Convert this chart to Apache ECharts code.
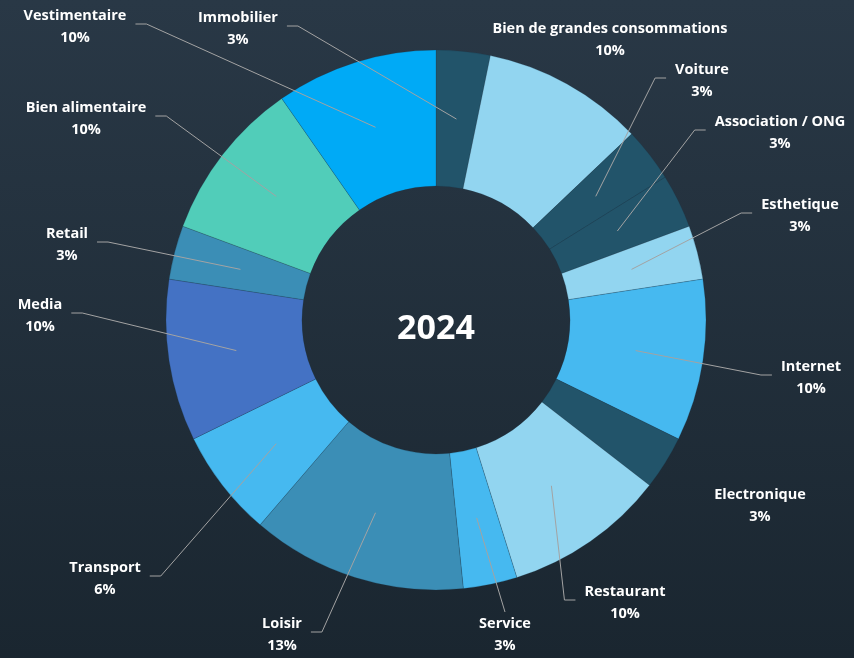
<!DOCTYPE html>
<html>
<head>
<meta charset="utf-8">
<script src="https://cdn.jsdelivr.net/npm/echarts@6/dist/echarts.min.js"></script>
<style>
  html, body { margin: 0; padding: 0; background: #222f3b; }
  #chart { width: 854px; height: 658px; }
</style>
</head>
<body>
<div id="chart"></div>
<script>
// Sectors, clockwise from 12 o'clock
const categories = [
  'Immobilier', 'Bien de grandes consommations', 'Voiture', 'Association / ONG',
  'Esthetique', 'Internet', 'Electronique', 'Restaurant', 'Service', 'Loisir',
  'Transport', 'Media', 'Retail', 'Bien alimentaire', 'Vestimentaire'
];
// Number of entries per sector (31 in total)
const counts = [1, 3, 1, 1, 1, 3, 1, 3, 1, 4, 2, 3, 1, 3, 3];
const yearLabel = '2024';

// Styling
const sliceColors = [
  '#22546a', '#92d5f0', '#22546a', '#22546a', '#92d5f0', '#46b9f0', '#22546a',
  '#92d5f0', '#46b9f0', '#3b8eb6', '#46b9f0', '#4472c4', '#3b8eb6', '#51cdb9', '#00aaf6'
];
// Label centres (px) and the side of the label the leader line joins
const labelPos = [
  [238, 29], [610, 40], [702, 81], [780, 133], [800, 216], [811, 378], [760, 506],
  [625, 603], [505, 635], [282, 635], [105, 579], [40, 316], [67, 245], [86, 119], [75, 27]
];
const leaderSide = [
  'right', 'none', 'left', 'left', 'left', 'left', 'none',
  'left', 'top', 'right', 'right', 'right', 'right', 'right', 'right'
];

const CX = 436, CY = 320;
const FONT = '"Open Sans", Lato, "Liberation Sans", sans-serif';
const GAP = 9, ELBOW = 11;

const chart = echarts.init(document.getElementById('chart'), null, { renderer: 'canvas' });

const ringData = categories.map((name, i) => ({
  name: name,
  value: counts[i],
  itemStyle: { color: sliceColors[i] }
}));

const labelData = categories.map((name, i) => ({
  name: name,
  value: counts[i],
  labelLine: { show: leaderSide[i] !== 'none' }
}));

// Place each label and route its leader from the mid-ring anchor to the label edge
function placeLabel(params) {
  const i = params.dataIndex;
  const p = labelPos[i];
  const out = { x: p[0], y: p[1], align: 'center', verticalAlign: 'middle' };
  const side = leaderSide[i];
  const pts = params.labelLinePoints;
  if (side === 'none' || !pts) return out;
  const a = pts[0];
  const w = params.labelRect.width, h = params.labelRect.height;
  if (side === 'top') {
    out.labelLinePoints = [[a[0], a[1]], [p[0], p[1] - h / 2 - 1]];
  } else {
    const dir = side === 'right' ? 1 : -1;
    const endX = p[0] + dir * (w / 2 + GAP);
    const endY = p[1] - 3;
    out.labelLinePoints = [[a[0], a[1]], [endX + dir * ELBOW, endY], [endX, endY]];
  }
  return out;
}

chart.setOption({
  backgroundColor: {
    type: 'linear', x: 0, y: 0, x2: 0, y2: 1,
    colorStops: [
      { offset: 0, color: '#293846' },
      { offset: 1, color: '#1a2630' }
    ]
  },
  animation: false,
  graphic: [{
    type: 'text',
    z: 10,
    style: {
      text: yearLabel,
      x: CX, y: CY + 9,
      align: 'center', verticalAlign: 'middle',
      fill: '#ffffff',
      font: 'bold 34px ' + FONT
    }
  }],
  series: [
    {
      // the coloured ring
      type: 'pie',
      center: [CX, CY],
      radius: [134, 270],
      startAngle: 90,
      clockwise: true,
      silent: true,
      label: { show: false },
      labelLine: { show: false },
      itemStyle: { borderColor: 'rgba(25,55,70,0.45)', borderWidth: 0.5 },
      data: ringData
    },
    {
      // invisible inner pie carrying the labels, so leaders start mid-ring
      type: 'pie',
      center: [CX, CY],
      radius: [0, 202],
      startAngle: 90,
      clockwise: true,
      silent: true,
      z: 4,
      percentPrecision: 0,
      avoidLabelOverlap: false,
      itemStyle: { color: 'rgba(0,0,0,0)', borderWidth: 0 },
      label: {
        show: true,
        position: 'outside',
        formatter: '{b}\n{d}%',
        color: '#ffffff',
        fontFamily: FONT,
        fontWeight: 'bold',
        fontSize: 14.5,
        lineHeight: 22,
        align: 'center'
      },
      labelLine: {
        show: true,
        length: 10,
        length2: 10,
        minTurnAngle: 0,
        lineStyle: { color: '#a3a3a3', width: 1, opacity: 1 }
      },
      labelLayout: placeLabel,
      data: labelData
    }
  ]
});
</script>
</body>
</html>
